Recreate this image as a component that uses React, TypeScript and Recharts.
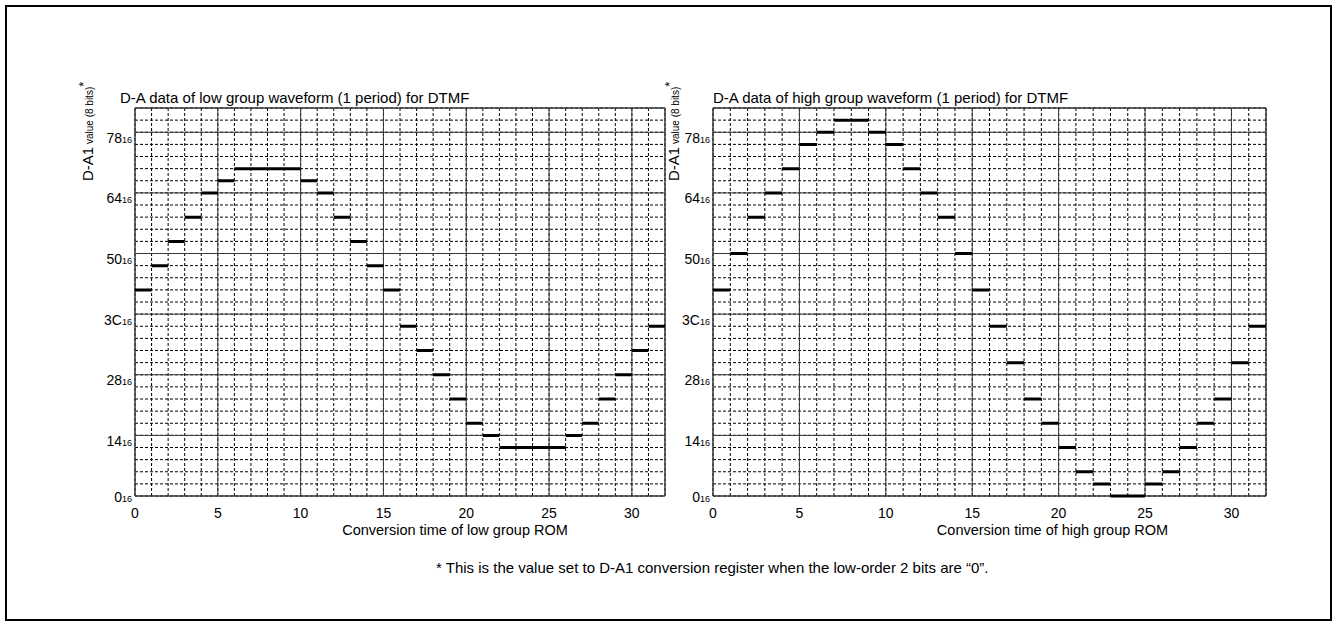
import React from 'react'
import { LineChart, Line, XAxis, YAxis, CartesianGrid, ReferenceArea } from 'recharts'

const FONT = '"Liberation Sans", Arial, Helvetica, sans-serif'

// D-A1 register value written in each of the 32 conversion slots (1 period)
const LOW_GROUP = [
  0x44, 0x4c, 0x54, 0x5c, 0x64, 0x68, 0x6c, 0x6c, 0x6c, 0x6c, 0x68, 0x64, 0x5c, 0x54, 0x4c, 0x44,
  0x38, 0x30, 0x28, 0x20, 0x18, 0x14, 0x10, 0x10, 0x10, 0x10, 0x14, 0x18, 0x20, 0x28, 0x30, 0x38,
]
const HIGH_GROUP = [
  0x44, 0x50, 0x5c, 0x64, 0x6c, 0x74, 0x78, 0x7c, 0x7c, 0x78, 0x74, 0x6c, 0x64, 0x5c, 0x50, 0x44,
  0x38, 0x2c, 0x20, 0x18, 0x10, 0x08, 0x04, 0x00, 0x00, 0x04, 0x08, 0x10, 0x18, 0x20, 0x2c, 0x38,
]

const X_DOMAIN = [0, 32]
const Y_DOMAIN = [0, 0x80]
const X_MAJOR = [0, 5, 10, 15, 20, 25, 30]
const X_MINOR = [
  0, 1, 2, 3, 4, 5, 6, 7, 8, 9, 10, 11, 12, 13, 14, 15, 16,
  17, 18, 19, 20, 21, 22, 23, 24, 25, 26, 27, 28, 29, 30, 31, 32,
]
const Y_MAJOR = [0x00, 0x14, 0x28, 0x3c, 0x50, 0x64, 0x78]
const Y_MINOR = [
  0, 4, 8, 12, 16, 20, 24, 28, 32, 36, 40, 44, 48, 52, 56, 60, 64,
  68, 72, 76, 80, 84, 88, 92, 96, 100, 104, 108, 112, 116, 120, 124, 128,
]

const LOW_TITLE = 'D-A data of low group waveform (1 period) for DTMF'
const HIGH_TITLE = 'D-A data of high group waveform (1 period) for DTMF'
const LOW_X_TITLE = 'Conversion time of low group ROM'
const HIGH_X_TITLE = 'Conversion time of high group ROM'
const FOOTNOTE = '* This is the value set to D-A1 conversion register when the low-order 2 bits are \u201c0\u201d.'

// each slot is a flat segment from i to i+1, broken by a null so slots don't join
function stepRows(values: number[]) {
  const rows: { x: number; y: number | null }[] = []
  values.forEach((v, i) => {
    rows.push({ x: i, y: v }, { x: i + 1, y: v }, { x: i + 1, y: null })
  })
  return rows
}

function HexTick(props: any) {
  const { x, y, payload } = props
  const hex = Number(payload.value).toString(16).toUpperCase()
  const dy = payload.value === 0 ? 6 : 10.5
  return (
    <text x={x} y={y + dy} textAnchor="end" fontFamily={FONT} fill="#000">
      <tspan fontSize={14}>{hex}</tspan>
      <tspan fontSize={9}>16</tspan>
    </text>
  )
}

function YTitle(props: any) {
  const { viewBox, gap } = props
  const x = viewBox.x + viewBox.width - gap
  const y = viewBox.y + 73
  return (
    <text x={x} y={y} transform={`rotate(-90 ${x} ${y})`} fontFamily={FONT} fill="#000">
      <tspan fontSize={15}>D-A1</tspan>
      <tspan fontSize={10}> value (8 bits)</tspan>
      <tspan fontSize={13} dy={-5}>*</tspan>
    </text>
  )
}

function XTitle(props: any) {
  const { viewBox, text, shift } = props
  return (
    <text
      x={viewBox.x + viewBox.width / 2 + shift}
      y={viewBox.y + 39}
      textAnchor="middle"
      fontFamily={FONT}
      fontSize={14.5}
      fill="#000"
    >
      {text}
    </text>
  )
}

interface PanelProps {
  values: number[]
  left: number
  axisWidth: number
  rightMargin: number
  titleGap: number
  xTitle: string
  xShift: number
}

function Panel({ values, left, axisWidth, rightMargin, titleGap, xTitle, xShift }: PanelProps) {
  const rows = stepRows(values)
  return (
    <div style={{ position: 'absolute', left, top: 0 }}>
      <LineChart width={680} height={560} data={rows} margin={{ top: 108, right: rightMargin, bottom: 0, left: 0 }}>
        <XAxis
          dataKey="x"
          type="number"
          domain={X_DOMAIN}
          ticks={X_MAJOR}
          interval={0}
          height={64}
          axisLine={false}
          tickLine={false}
          tickSize={0}
          tickMargin={12}
          tick={{ fontSize: 14, fill: '#000', fontFamily: FONT }}
          label={<XTitle text={xTitle} shift={xShift} />}
        />
        <YAxis
          type="number"
          domain={Y_DOMAIN}
          ticks={Y_MAJOR}
          interval={0}
          width={axisWidth}
          axisLine={false}
          tickLine={false}
          tickSize={0}
          tickMargin={3}
          tick={<HexTick />}
          label={<YTitle gap={titleGap} />}
        />
        {/* fine dashed grid: every slot across, every 4 counts up */}
        <CartesianGrid horizontalValues={Y_MINOR} verticalValues={X_MINOR} stroke="#000" strokeDasharray="3 2" />
        <CartesianGrid stroke="#3a3a3a" />
        <ReferenceArea x1={0} x2={32} y1={0} y2={0x80} fill="none" stroke="#3a3a3a" ifOverflow="visible" />
        <Line
          dataKey="y"
          type="linear"
          stroke="#000"
          strokeWidth={3}
          strokeLinecap="butt"
          dot={false}
          activeDot={false}
          connectNulls={false}
          isAnimationActive={false}
        />
      </LineChart>
    </div>
  )
}

export default function App() {
  return (
    <div style={{ position: 'absolute', left: 0, top: 0, width: 1337, height: 626, background: '#fff', fontFamily: FONT }}>
      <div
        style={{
          position: 'absolute',
          left: 5,
          top: 5,
          width: 1327,
          height: 616,
          border: '2px solid #000',
          boxSizing: 'border-box',
        }}
      />
      <Panel values={LOW_GROUP} left={0} axisWidth={135} rightMargin={15} titleGap={42} xTitle={LOW_X_TITLE} xShift={55} />
      <Panel values={HIGH_GROUP} left={600} axisWidth={113} rightMargin={14} titleGap={34} xTitle={HIGH_X_TITLE} xShift={63} />
      <svg width={1337} height={626} style={{ position: 'absolute', left: 0, top: 0, pointerEvents: 'none' }}>
        <text x={120} y={103} fontSize={15} fontFamily={FONT} fill="#000">{LOW_TITLE}</text>
        <text x={713} y={103} fontSize={15} fontFamily={FONT} fill="#000">{HIGH_TITLE}</text>
        <text x={436} y={573} fontSize={15} fontFamily={FONT} fill="#000">{FOOTNOTE}</text>
      </svg>
    </div>
  )
}
